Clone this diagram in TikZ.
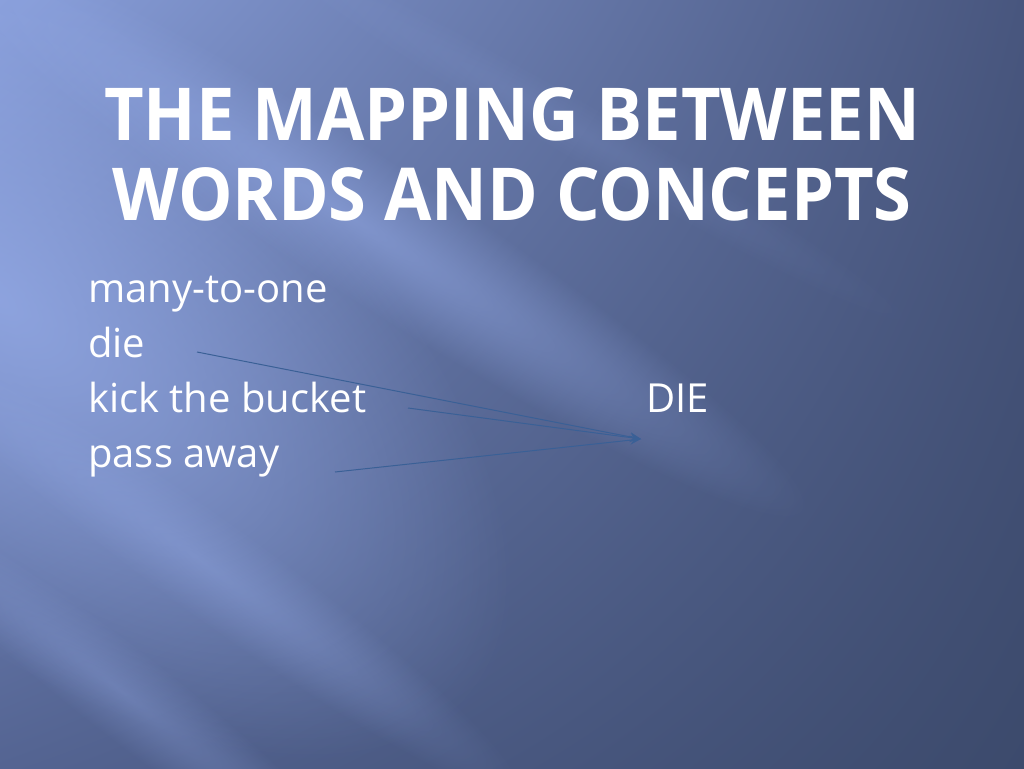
\documentclass[tikz,border=0pt]{standalone}
\usepackage{fontspec}
\setmainfont{Open Sans}
\newfontfamily\titlefont[FakeStretch=0.94]{Open Sans}
\usetikzlibrary{arrows.meta,shadings,fadings}

\definecolor{slidetl}{RGB}{136,158,218}
\definecolor{slidetr}{RGB}{72,86,126}
\definecolor{slidebl}{RGB}{84,100,146}
\definecolor{slidebr}{RGB}{60,74,108}
\definecolor{streakblue}{RGB}{146,168,228}
\definecolor{mapline}{RGB}{58,96,150}

\tikzfading[name=streakfade, inner color=transparent!0, outer color=transparent!100]

\begin{document}
\begin{tikzpicture}[x=1pt,y=-1pt]
\tikzstyle{every node}+=[inner sep=0pt, text=white]
\tikzstyle{word}=[anchor=base west, font=\fontsize{40}{40}\selectfont]
\tikzstyle{streak}=[fill=streakblue, draw=none, path fading=streakfade]
\tikzstyle{maparrow}=[draw=mapline, line width=1pt, -{Stealth[length=11pt,width=9pt,inset=4pt]}]
% background
\useasboundingbox (0,0) rectangle (1024,768);
\shade [upper left=slidetl, upper right=slidetr, lower left=slidebl, lower right=slidebr] (0,0) rectangle (1024,768);
\begin{scope}
\clip (0,0) rectangle (1024,768);
\fill [streak, opacity=0.85, transform canvas={shift={(0,300)}, rotate=-40}] (-620,-300) rectangle (620,300);
\fill [streak, opacity=0.60, transform canvas={shift={(340,210)}, rotate=-33}] (-560,-70) rectangle (560,70);
\fill [streak, opacity=0.40, transform canvas={shift={(200,560)}, rotate=-36}] (-400,-50) rectangle (400,50);
\fill [streak, opacity=0.35, transform canvas={shift={(120,690)}, rotate=-38}] (-320,-45) rectangle (320,45);
\fill [streak, opacity=0.15, transform canvas={shift={(560,120)}, rotate=-30}] (-420,-30) rectangle (420,30);
\end{scope}
% title
\node [font=\titlefont\bfseries\fontsize{73}{80}\selectfont, align=center, anchor=base] (title) at (512,220) {THE MAPPING BETWEEN\\WORDS AND CONCEPTS};
% words
\node [word] (many) at (88,302) {many-to-one};
\node [word] (die) at (88,357) {die};
\node [word] (kick) at (88,412) {kick the bucket};
\node [word] (pass) at (88,467) {pass away};
\node [word] (concept) at (646,412) {DIE};
% arrows
\coordinate (dieStart) at (197,352);
\coordinate (kickStart) at (408,408);
\coordinate (passStart) at (335,472);
\coordinate (target) at (641,439);
\draw [maparrow] (dieStart) -- (target);
\draw [maparrow] (kickStart) -- (target);
\draw [maparrow] (passStart) -- (target);
\end{tikzpicture}
\end{document}
